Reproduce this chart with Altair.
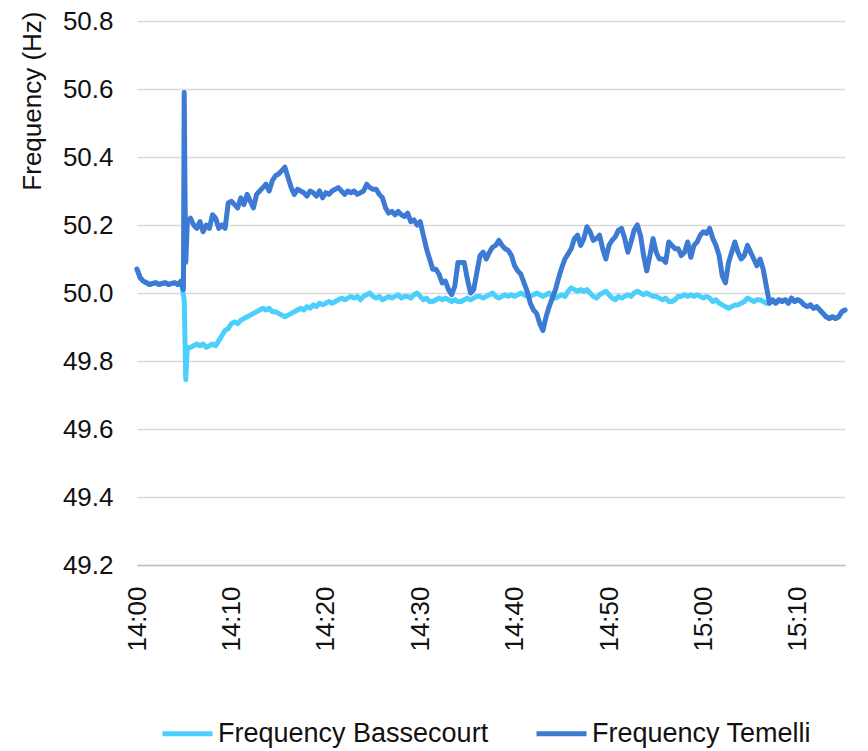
import altair as alt
import pandas as pd

# Regular samples every 20 s starting 14:00:00
SAMPLE_STEP_S = 20

temelli = [
    50.07, 50.045, 50.035, 50.03, 50.025, 50.028, 50.03, 50.025, 50.028, 50.03,
    50.025, 50.028, 50.03, 50.025, 50.035, 50.59, 50.21, 50.22, 50.20, 50.19,
    50.21, 50.18, 50.20, 50.19, 50.23, 50.22, 50.19, 50.20, 50.19, 50.265,
    50.27, 50.26, 50.25, 50.28, 50.26, 50.29, 50.27, 50.25, 50.29, 50.30,
    50.31, 50.32, 50.30, 50.33, 50.345, 50.35, 50.36, 50.37, 50.34, 50.31,
    50.29, 50.305, 50.30, 50.295, 50.285, 50.30, 50.295, 50.285, 50.30, 50.28,
    50.295, 50.29, 50.30, 50.305, 50.31, 50.30, 50.29, 50.30, 50.295, 50.30,
    50.29, 50.295, 50.30, 50.32, 50.31, 50.305, 50.305, 50.29, 50.28, 50.25,
    50.235, 50.24, 50.23, 50.24, 50.23, 50.225, 50.235, 50.21, 50.215, 50.20,
    50.21, 50.17, 50.13, 50.10, 50.07, 50.07, 50.055, 50.03, 50.035, 50.01,
    49.995, 50.02, 50.09, 50.09, 50.09, 50.04, 50.00, 50.01, 50.06, 50.11,
    50.12, 50.10, 50.12, 50.135, 50.14, 50.155, 50.14, 50.13, 50.125, 50.11,
    50.08, 50.065, 50.055, 50.03, 50.005, 49.97, 49.95, 49.94, 49.91, 49.89,
    49.93, 49.96, 49.985, 50.01, 50.045, 50.075, 50.10, 50.115, 50.13, 50.16,
    50.17, 50.14, 50.16, 50.195, 50.18, 50.155, 50.16, 50.17, 50.13, 50.10,
    50.14, 50.155, 50.165, 50.185, 50.19, 50.16, 50.12, 50.15, 50.185, 50.20,
    50.17, 50.11, 50.065, 50.11, 50.16, 50.12, 50.10, 50.10, 50.09, 50.15,
    50.14, 50.13, 50.13, 50.11, 50.12, 50.15, 50.105, 50.14, 50.15, 50.17,
    50.18, 50.175, 50.19, 50.16, 50.14, 50.11, 50.05, 50.03, 50.09, 50.12,
    50.15, 50.12, 50.10, 50.11, 50.14, 50.12, 50.10, 50.08, 50.10, 50.07,
    50.02, 49.97, 49.98, 49.97, 49.98, 49.975, 49.98, 49.97, 49.985, 49.975,
    49.98, 49.975, 49.965, 49.96, 49.965, 49.955, 49.96, 49.95, 49.94, 49.93,
    49.925, 49.93, 49.925, 49.93, 49.945, 49.95,
]

bassecourt = [
    50.07, 50.045, 50.035, 50.03, 50.025, 50.028, 50.03, 50.025, 50.028, 50.03,
    50.025, 50.028, 50.03, 50.025, 50.035, 49.98, 49.84, 49.84, 49.845, 49.85,
    49.845, 49.85, 49.84, 49.845, 49.85, 49.845, 49.86, 49.875, 49.89, 49.895,
    49.91, 49.915, 49.91, 49.92, 49.925, 49.93, 49.935, 49.94, 49.945, 49.95,
    49.955, 49.95, 49.955, 49.945, 49.945, 49.94, 49.935, 49.93, 49.935, 49.94,
    49.945, 49.95, 49.955, 49.95, 49.96, 49.955, 49.965, 49.96, 49.97, 49.965,
    49.97, 49.975, 49.97, 49.975, 49.98, 49.985, 49.98, 49.985, 49.99, 49.985,
    49.99, 49.98, 49.99, 49.995, 50.0, 49.99, 49.985, 49.99, 49.98, 49.985,
    49.99, 49.985, 49.99, 49.995, 49.985, 49.99, 49.99, 49.985, 49.995, 50.0,
    49.99, 49.98, 49.985, 49.975, 49.975, 49.98, 49.985, 49.98, 49.985, 49.98,
    49.975, 49.98, 49.975, 49.975, 49.98, 49.985, 49.98, 49.985, 49.99, 49.99,
    49.985, 49.99, 49.995, 50.0, 49.99, 49.985, 49.99, 49.995, 49.99, 49.995,
    49.99, 49.995, 50.0, 49.995, 49.99, 49.99, 49.995, 50.0, 49.995, 49.99,
    49.995, 50.0, 49.99, 49.985, 49.99, 49.995, 49.99, 50.005, 50.015, 50.01,
    50.005, 50.01, 50.005, 50.01, 50.0, 49.99, 49.985, 49.995, 50.0, 50.005,
    49.995, 49.985, 49.98, 49.99, 49.985, 49.99, 49.995, 49.99, 50.0, 50.005,
    50.0, 49.995, 50.0, 49.995, 49.99, 49.99, 49.985, 49.98, 49.985, 49.975,
    49.975, 49.98, 49.99, 49.99, 49.995, 49.99, 49.995, 49.99, 49.995, 49.99,
    49.985, 49.99, 49.985, 49.975, 49.98, 49.97, 49.965, 49.96, 49.955, 49.96,
    49.965, 49.965, 49.97, 49.975, 49.985, 49.98, 49.975, 49.98, 49.98, 49.975,
    49.97, 49.97, 49.98, 49.97, 49.98, 49.975, 49.98, 49.97, 49.985, 49.975,
    49.98, 49.975, 49.965, 49.96, 49.965, 49.955, 49.96, 49.95, 49.94, 49.93,
    49.925, 49.93, 49.925, 49.93, 49.945, 49.95,
]

# Extra readings around the 14:05 disturbance (seconds after 14:00)
temelli_extra_s = [295, 305, 310]
temelli_extra_v = [50.01, 50.30, 50.09]
bassecourt_extra_s = [310, 315]
bassecourt_extra_v = [49.745, 49.80]

series_names = ["Frequency Bassecourt", "Frequency Temelli"]
series_colors = ["#4dcffc", "#3d7ad3"]
y_ticks = [49.2, 49.4, 49.6, 49.8, 50.0, 50.2, 50.4, 50.6, 50.8]
x_ticks_min = [0, 10, 20, 30, 40, 50, 60, 70]


def build(name, vals, extra_s, extra_v):
    rows = [{"t": i * SAMPLE_STEP_S / 60.0, "v": v, "s": name} for i, v in enumerate(vals)]
    rows += [{"t": s / 60.0, "v": v, "s": name} for s, v in zip(extra_s, extra_v)]
    return pd.DataFrame(rows).sort_values("t")


df_b = build(series_names[0], bassecourt, bassecourt_extra_s, bassecourt_extra_v)
df_t = build(series_names[1], temelli, temelli_extra_s, temelli_extra_v)

FONT = "Liberation Sans"
TXT = "#111111"
label_expr = (
    "(datum.value < 60 ? '14:' : '15:') + "
    "((datum.value % 60) < 10 ? '0' : '') + (datum.value % 60)"
)

x_enc = alt.X(
    "t:Q",
    scale=alt.Scale(domain=[0, 75], nice=False, zero=False),
    axis=alt.Axis(
        values=x_ticks_min, labelExpr=label_expr, title=None, grid=False, ticks=False,
        domain=True, domainColor="#bfbfbf", domainWidth=1.5,
        labelAngle=270, labelAlign="right", labelBaseline="middle",
        labelPadding=21, labelFontSize=26, labelFont=FONT, labelColor=TXT,
        labelFlush=False, labelOverlap=False,
    ),
)
y_enc = alt.Y(
    "v:Q",
    scale=alt.Scale(domain=[49.2, 50.8], nice=False, zero=False),
    axis=alt.Axis(
        values=y_ticks, format=".1f", title="Frequency (Hz)", grid=True,
        gridColor="#d9d9d9", gridWidth=1.5, ticks=False, domain=False,
        labelPadding=24, labelFontSize=26, labelFont=FONT, labelColor=TXT,
        titleFont=FONT, titleFontSize=26, titleFontWeight="normal", titleColor=TXT,
        titleAngle=270, titleAlign="right", titleBaseline="middle",
        titleX=-105, titleY=-10,
    ),
)
color_enc = alt.Color(
    "s:N",
    scale=alt.Scale(domain=series_names, range=series_colors),
    legend=alt.Legend(
        title=None, orient="none", direction="horizontal", legendX=23, legendY=685,
        symbolType="stroke", symbolSize=2500, symbolStrokeWidth=5,
        labelFont=FONT, labelFontSize=27, labelColor=TXT, labelOffset=3,
        columnPadding=37, labelLimit=0,
    ),
)

line_b = alt.Chart(df_b).mark_line(strokeWidth=5, strokeJoin="round", strokeCap="round").encode(
    x=x_enc, y=y_enc, color=color_enc
)
line_t = alt.Chart(df_t).mark_line(strokeWidth=5, strokeJoin="round", strokeCap="round").encode(
    x=x_enc, y=y_enc, color=color_enc
)

chart = (
    alt.layer(line_b, line_t)
    .properties(
        width=708, height=544,
        background="white",
        autosize=alt.AutoSizeParams(type="none"),
        padding={"left": 129, "top": 13, "right": 15, "bottom": 184},
    )
    .configure_view(strokeWidth=0)
)

chart.save("out.html", embed_options={"renderer": "svg", "actions": False})
